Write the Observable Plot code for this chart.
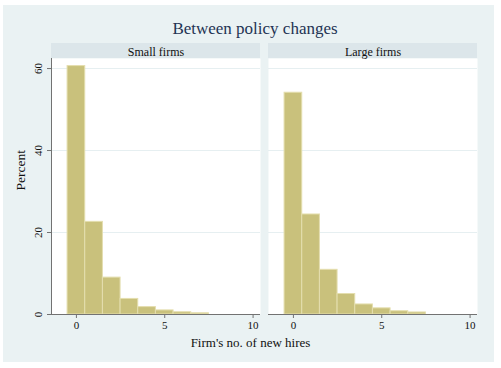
<!DOCTYPE html>
<html>
<head>
<meta charset="utf-8">
<script src="https://cdn.jsdelivr.net/npm/d3@7"></script>
<script src="https://cdn.jsdelivr.net/npm/@observablehq/plot@0.6"></script>
<style>
  html, body { margin: 0; padding: 0; background: #ffffff; }
  #wrap { position: relative; width: 501px; height: 368px; overflow: hidden; font-family: "Liberation Serif", "Times New Roman", serif; }
  #bg { position: absolute; left: 3px; top: 5px; width: 491px; height: 357px; background: #eaf2f3; }
  .hdr { position: absolute; top: 43px; height: 15px; width: 209px; background: #dce6ea; }
  #title { position: absolute; left: 0; width: 510px; top: 19px; text-align: center; font-size: 17px; color: #1f3454; }
  #xlabel { position: absolute; left: 0; width: 501px; top: 335px; text-align: center; font-size: 13px; color: #111; }
  #chart { position: absolute; left: 0; top: 0; }
</style>
</head>
<body>
<div id="wrap">
  <div id="bg"></div>
  <div class="hdr" style="left:51px"></div>
  <div class="hdr" style="left:268px"></div>
  <div id="title">Between policy changes</div>
  <div id="chart"></div>
  <div id="xlabel">Firm's no. of new hires</div>
</div>
<script>
const firmSizes = ["Small firms", "Large firms"];
const bins = [0, 1, 2, 3, 4, 5, 6, 7];
const smallPct = [60.6, 22.6, 9.0, 3.8, 1.8, 1.0, 0.55, 0.3];
const largePct = [54.1, 24.4, 10.9, 5.0, 2.45, 1.5, 0.8, 0.5];
const xTicks = [0, 5, 10];
const yTicks = [0, 20, 40, 60];
const xDomain = [-1.41, 10.42];
const yDomain = [0, 62.45];
const yLabel = "Percent";

const rows = [];
bins.forEach((b, i) => {
  rows.push({firm: firmSizes[0], bin: b, pct: smallPct[i]});
  rows.push({firm: firmSizes[1], bin: b, pct: largePct[i]});
});

const axisColor = "#727272";

const plot = Plot.plot({
  width: 501,
  height: 368,
  marginLeft: 51,
  marginRight: 24,
  marginTop: 58,
  marginBottom: 54,
  style: {background: "transparent", fontFamily: "'Liberation Serif', 'Times New Roman', serif", color: "#111"},
  fx: {domain: firmSizes, paddingInner: 8 / 217, paddingOuter: 0},
  x: {domain: xDomain},
  y: {domain: yDomain},
  marks: [
    Plot.frame({fill: "white", stroke: null}),
    Plot.gridY(yTicks.filter(d => d > 0), {stroke: "#e6eff1", strokeOpacity: 1, strokeWidth: 1}),
    Plot.rectY(rows, {
      fx: "firm",
      x1: d => d.bin - 0.5,
      x2: d => d.bin + 0.5,
      y1: 0,
      y2: "pct",
      fill: "#c9c17c",
      stroke: "#e4deae",
      strokeWidth: 1
    }),
    Plot.ruleY([0], {stroke: axisColor, strokeWidth: 1}),
    Plot.ruleX([{firm: firmSizes[0]}], {fx: "firm", x: () => xDomain[0], stroke: axisColor, strokeWidth: 1}),
    Plot.axisFx({anchor: "top", tickSize: 0, tickPadding: 3, fontSize: 12, label: null}),
    Plot.axisX({ticks: xTicks, tickSize: 4, tickPadding: 3, fontSize: 11, label: null, stroke: axisColor, strokeOpacity: 1}),
    Plot.axisY({ticks: yTicks, tickSize: 4, tickPadding: 6, fontSize: 11, tickRotate: -90, textAnchor: "middle",
      label: null, stroke: axisColor, strokeOpacity: 1}),
    Plot.text([{firm: firmSizes[0]}], {fx: "firm", frameAnchor: "left", text: () => yLabel, rotate: -90,
      dx: -31, dy: 4, fontSize: 13.5, fill: "#111"})
  ]
});
document.getElementById("chart").appendChild(plot);
</script>
</body>
</html>
